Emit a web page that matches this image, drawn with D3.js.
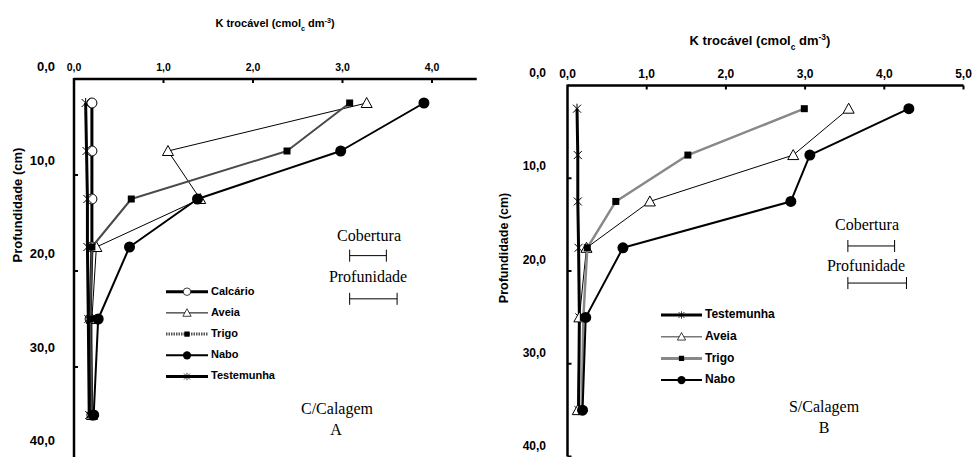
<!DOCTYPE html>
<html>
<head>
<meta charset="utf-8">
<script src="https://cdn.jsdelivr.net/npm/d3@7"></script>
<style>
  body { margin: 0; background: #fff; }
  svg { display: block; }
  text { font-family: "Liberation Sans", Arial, sans-serif; fill: #000; }
  .serif { font-family: "Liberation Serif", "Times New Roman", serif; }
</style>
</head>
<body>
<script>
// depths (cm) shared by both panels
const depths = [2.5, 7.5, 12.5, 17.5, 25, 35];
const depthTicks = [0, 10, 20, 30, 40];

// A - C/Calagem
const calcarioA   = [0.20, 0.20, 0.20, 0.20, 0.18, 0.20];
const aveiaA      = [3.27, 1.05, 1.41, 0.25, 0.20, 0.20];
const trigoA      = [3.08, 2.38, 0.64, 0.20, 0.18, 0.20];
const naboA       = [3.91, 2.98, 1.38, 0.62, 0.27, 0.22];
const testemunhaA = [0.13, 0.14, 0.15, 0.15, 0.16, 0.17];
const lsdA = [0.41, 0.53]; // cobertura, profundidade

// B - S/Calagem
const testemunhaB = [0.12, 0.13, 0.13, 0.14, 0.15, 0.14];
const aveiaB      = [3.55, 2.85, 1.04, 0.24, 0.15, 0.13];
const trigoB      = [2.99, 1.52, 0.61, 0.25, 0.20, 0.18];
const naboB       = [4.31, 3.06, 2.82, 0.70, 0.23, 0.19];
const lsdB = [0.59, 0.74];

const width = 976, height = 457;
const fmt = d => d3.format(".1f")(d).replace(".", ",");

const svg = d3.select("body").append("svg")
    .attr("width", width)
    .attr("height", height);

function drawMarker(g, type) {
  if (type == "circleOpen") g.append("circle").attr("r", 5).attr("fill", "#fff").attr("stroke", "#000");
  if (type == "circle") g.append("circle").attr("r", 5.5).attr("fill", "#000");
  if (type == "square") g.append("rect").attr("x", -3.5).attr("y", -3.5).attr("width", 7).attr("height", 7).attr("fill", "#000");
  if (type == "triangle") g.append("path").attr("d", "M0,-5.5L5.5,4.5L-5.5,4.5Z").attr("fill", "#fff").attr("stroke", "#000");
  if (type == "star") g.append("path").attr("d", "M-4,-4L4,4M-4,4L4,-4M0,-5L0,5").attr("stroke", "#000").attr("fill", "none");
}

function panel(p) {
  const x = d3.scaleLinear().domain(p.xDomain).range(p.xRange);
  const y = d3.scaleLinear().domain([0, 40]).range(p.yRange);
  const yLab = y.copy().range(p.yLabelRange);
  const g = svg.append("g");

  // x axis on top
  g.append("line")
      .attr("x1", x(0)).attr("x2", x(p.xDomain[1]))
      .attr("y1", y(0)).attr("y2", y(0))
      .attr("stroke", "#000").attr("stroke-width", 2.5);
  g.append("g").selectAll("line")
    .data(p.xTicks.slice(1))
    .join("line")
      .attr("x1", d => x(d)).attr("x2", d => x(d))
      .attr("y1", y(0)).attr("y2", y(0) + 4)
      .attr("stroke", "#000").attr("stroke-width", 2);
  g.append("g").selectAll("text")
    .data(p.xTicks)
    .join("text")
      .attr("x", d => x(d))
      .attr("y", p.xLabelY)
      .attr("text-anchor", "middle")
      .attr("dominant-baseline", "middle")
      .attr("font-size", p.xTickSize)
      .attr("font-weight", "bold")
      .text(fmt);

  // y axis
  g.append("line")
      .attr("x1", x(0)).attr("x2", x(0))
      .attr("y1", y(0) - 1).attr("y2", y(40))
      .attr("stroke", "#000").attr("stroke-width", 2.5);
  g.append("g").selectAll("line")
    .data(depthTicks.slice(1))
    .join("line")
      .attr("x1", x(0)).attr("x2", x(0) + 4)
      .attr("y1", d => y(d)).attr("y2", d => y(d))
      .attr("stroke", "#000").attr("stroke-width", 2);
  g.append("g").selectAll("text")
    .data(depthTicks)
    .join("text")
      .attr("x", p.yLabelX)
      .attr("y", d => yLab(d))
      .attr("text-anchor", "end")
      .attr("dominant-baseline", "middle")
      .attr("font-size", p.yTickSize)
      .attr("font-weight", "bold")
      .text(fmt);

  g.append("text")
      .attr("transform", `translate(${p.yTitle[0]},${p.yTitle[1]}) rotate(-90)`)
      .attr("text-anchor", "middle")
      .attr("dominant-baseline", "middle")
      .attr("font-size", p.yTitleSize)
      .attr("font-weight", "bold")
      .text("Profundidade (cm)");

  const t = g.append("text")
      .attr("x", p.xTitle[0]).attr("y", p.xTitle[1])
      .attr("text-anchor", "middle")
      .attr("font-size", p.xTitleSize)
      .attr("font-weight", "bold");
  t.append("tspan").text("K trocável (cmol");
  t.append("tspan").attr("baseline-shift", "sub").attr("font-size", p.xTitleSize * 0.65).text("c");
  t.append("tspan").text(" dm");
  t.append("tspan").attr("baseline-shift", "super").attr("font-size", p.xTitleSize * 0.65).text("-3");
  t.append("tspan").text(")");

  // series
  const line = d3.line().x(d => x(d[0])).y(d => y(d[1]));
  p.series.forEach(s => {
    const pts = s.values.map((v, i) => [v, depths[i]]);
    g.append("path")
        .attr("d", line(pts))
        .attr("fill", "none")
        .attr("stroke", s.color)
        .attr("stroke-width", s.width)
        .attr("stroke-linejoin", "round");
    g.append("g").selectAll("g")
      .data(pts)
      .join("g")
        .attr("transform", d => `translate(${x(d[0])},${y(d[1])})`)
        .each(function() { drawMarker(d3.select(this), s.marker); });
  });

  // legend
  const lg = g.append("g").selectAll("g")
    .data(p.legendOrder.map(i => p.series[i]))
    .join("g")
      .attr("transform", (d, i) => `translate(${p.legend[0]},${p.legend[1] + i * p.legend[2]})`);
  lg.append("line")
      .attr("x1", 0).attr("x2", p.legend[3])
      .attr("stroke", d => d.legendColor || d.color)
      .attr("stroke-width", d => d.legendWidth || d.width)
      .attr("stroke-dasharray", d => d.legendDash || null);
  lg.append("g")
      .attr("transform", `translate(${p.legend[3] / 2},0) scale(0.75)`)
      .each(function(d) { drawMarker(d3.select(this), d.marker); });
  lg.append("text")
      .attr("x", p.legend[3] + 3)
      .attr("dominant-baseline", "middle")
      .attr("font-size", p.legendSize)
      .attr("font-weight", "bold")
      .text(d => d.name);

  // LSD bars
  p.lsd.forEach((w, i) => {
    const yy = y(p.lsdDepth[i]), x0 = x(p.lsdStart), x1 = x(p.lsdStart + w);
    g.append("path")
        .attr("d", `M${x0},${yy}H${x1}M${x0},${yy - 6}V${yy + 6}M${x1},${yy - 6}V${yy + 6}`)
        .attr("stroke", "#000").attr("fill", "none");
    g.append("text")
        .attr("class", "serif")
        .attr("x", p.lsdText[i][0]).attr("y", p.lsdText[i][1])
        .attr("text-anchor", "middle")
        .attr("font-size", 16)
        .text(i == 0 ? "Cobertura" : "Profunidade");
  });

  p.caption.forEach(c => {
    g.append("text")
        .attr("class", "serif")
        .attr("x", c[0]).attr("y", c[1])
        .attr("text-anchor", "middle")
        .attr("font-size", 16)
        .text(c[2]);
  });
}

panel({
  xDomain: [0, 4.5], xRange: [74, 476.75], xTicks: [0, 1, 2, 3, 4],
  yRange: [79, 463], yLabelRange: [68, 442],
  xLabelY: 68, xTickSize: 10.5, yLabelX: 55, yTickSize: 13,
  yTitle: [19, 205], yTitleSize: 13,
  xTitle: [275, 27], xTitleSize: 11,
  series: [
    {name: "Calcário", values: calcarioA, color: "#000", width: 3, marker: "circleOpen"},
    {name: "Aveia", values: aveiaA, color: "#000", width: 1, marker: "triangle"},
    {name: "Trigo", values: trigoA, color: "#4a4a4a", width: 2, marker: "square", legendColor: "#555", legendWidth: 3, legendDash: "1.5,1"},
    {name: "Nabo", values: naboA, color: "#000", width: 2, marker: "circle"},
    {name: "Testemunha", values: testemunhaA, color: "#000", width: 3, marker: "star"}
  ],
  legendOrder: [0, 1, 2, 3, 4],
  legend: [166, 291.7, 21.2, 42], legendSize: 11,
  lsd: lsdA, lsdStart: 3.08, lsdDepth: [18.4, 22.9],
  lsdText: [[369, 241], [368, 282]],
  caption: [[337, 414, "C/Calagem"], [336, 435, "A"]]
});

panel({
  xDomain: [0, 5], xRange: [567.5, 963.5], xTicks: [0, 1, 2, 3, 4, 5],
  yRange: [85.5, 456.5], yLabelRange: [74, 447],
  xLabelY: 75, xTickSize: 12, yLabelX: 546, yTickSize: 12,
  yTitle: [505, 248], yTitleSize: 12.5,
  xTitle: [760, 45], xTitleSize: 13,
  series: [
    {name: "Testemunha", values: testemunhaB, color: "#000", width: 3, marker: "star"},
    {name: "Aveia", values: aveiaB, color: "#000", width: 1, marker: "triangle", legendColor: "#777", legendWidth: 1.5},
    {name: "Trigo", values: trigoB, color: "#888", width: 2.5, marker: "square", legendWidth: 3},
    {name: "Nabo", values: naboB, color: "#000", width: 2, marker: "circle"}
  ],
  legendOrder: [0, 1, 2, 3],
  legend: [661, 315, 21.7, 41], legendSize: 12,
  lsd: lsdB, lsdStart: 3.54, lsdDepth: [17.3, 21.3],
  lsdText: [[867, 230], [866, 271]],
  caption: [[824, 412, "S/Calagem"], [824, 433, "B"]]
});
</script>
</body>
</html>
